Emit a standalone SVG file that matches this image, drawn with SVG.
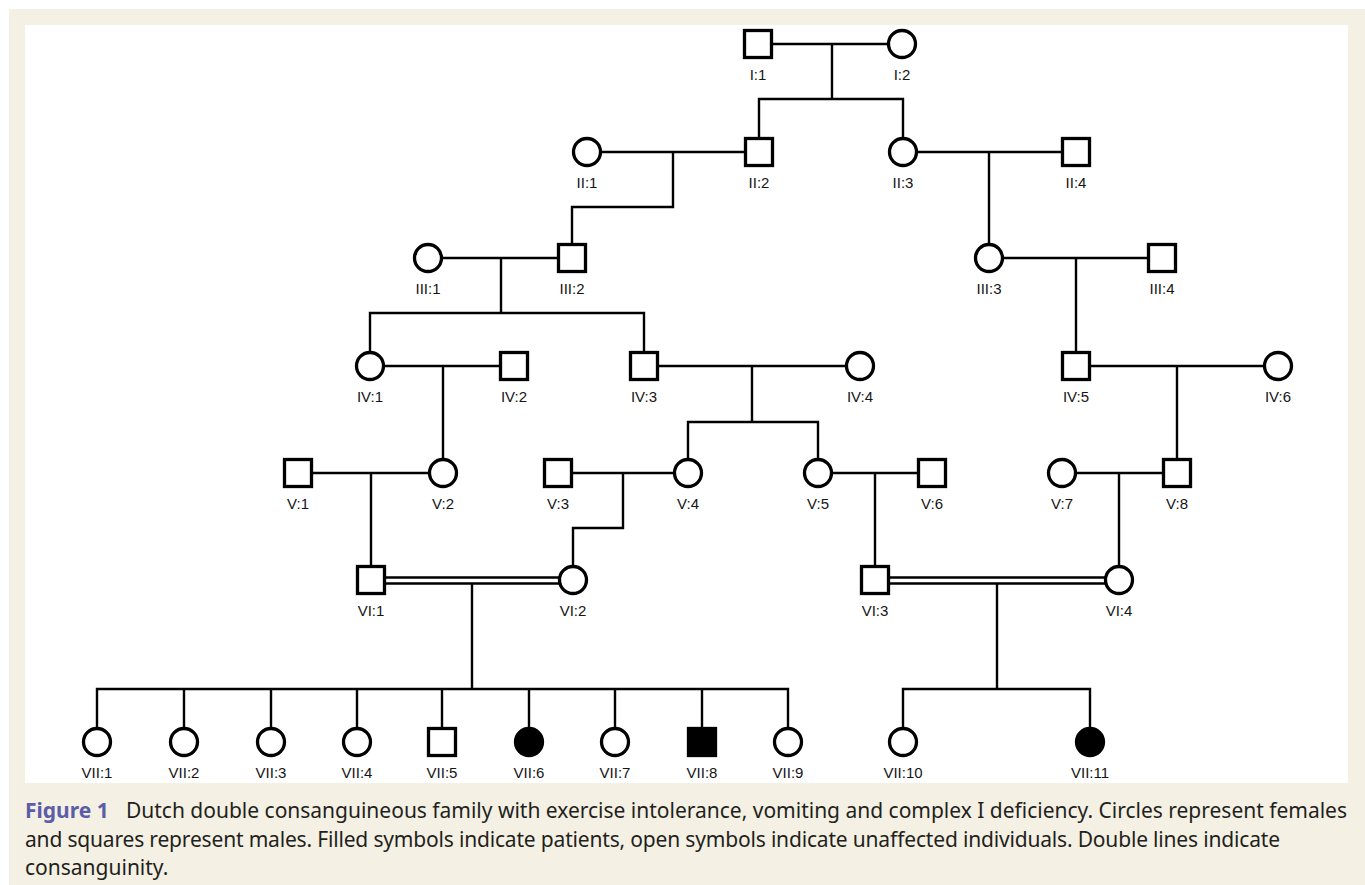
<svg xmlns="http://www.w3.org/2000/svg" width="1365" height="885" viewBox="0 0 1365 885">
<defs>
<style>
.ln{fill:none;stroke:#000;stroke-width:2.4;stroke-linecap:square}
.sym{fill:#fff;stroke:#000;stroke-width:3.3}
.aff{fill:#000;stroke:#000;stroke-width:3.3}
.lb{font-family:"Liberation Sans",Arial,sans-serif;font-size:15px;fill:#151515;text-anchor:middle}
.cap{font-family:"Noto Sans","Open Sans",sans-serif;font-size:21px;fill:#231f20}
.fig{font-family:"Noto Sans","Open Sans",sans-serif;font-size:21px;font-weight:bold;fill:#5a5da8}
</style>
<rect id="sq" x="-13.5" y="-13.5" width="27" height="27"/>
</defs>
<rect x="0" y="0" width="1365" height="885" fill="#fff"/>
<rect x="9" y="9" width="1356" height="876" fill="#f4f0e3"/>
<rect x="25" y="25" width="1323" height="758" fill="#fff"/>

<g id="connectors">
<path class="ln" d="M758 44H902M832 44V99M759 99H903M759 99V152M903 99V152"/>
<path class="ln" d="M587 152H759M673 152V207H572V258"/>
<path class="ln" d="M903 152H1076M989 152V258"/>
<path class="ln" d="M428 258H572M501 258V313M370 313H644M370 313V366M644 313V366"/>
<path class="ln" d="M989 258H1162M1076 258V366"/>
<path class="ln" d="M370 366H514M443 366V473"/>
<path class="ln" d="M644 366H860M752 366V422M688 422H818M688 422V473M818 422V473"/>
<path class="ln" d="M1076 366H1278M1177 366V473"/>
<path class="ln" d="M298 473H443M371 473V580"/>
<path class="ln" d="M558 473H688M623 473V528H573V580"/>
<path class="ln" d="M818 473H932M875 473V580"/>
<path class="ln" d="M1062 473H1177M1119 473V580"/>
<path class="ln" d="M371 577.5H573M371 583.5H573M472 583.5V689M97 689H788M97 689V742M184 689V742M271 689V742M357 689V742M442 689V742M529 689V742M615 689V742M702 689V742M788 689V742"/>
<path class="ln" d="M875 577.5H1119M875 583.5H1119M997 583.5V689M903 689H1090M903 689V742M1090 689V742"/>
</g>

<g id="I-1"><use href="#sq" class="sym" x="758" y="44"/><text class="lb" x="758" y="80">I:1</text></g>
<g id="I-2"><circle class="sym" cx="902" cy="44" r="13.5"/><text class="lb" x="902" y="80">I:2</text></g>

<g id="II-1"><circle class="sym" cx="587" cy="152" r="13.5"/><text class="lb" x="587" y="188">II:1</text></g>
<g id="II-2"><use href="#sq" class="sym" x="759" y="152"/><text class="lb" x="759" y="188">II:2</text></g>
<g id="II-3"><circle class="sym" cx="903" cy="152" r="13.5"/><text class="lb" x="903" y="188">II:3</text></g>
<g id="II-4"><use href="#sq" class="sym" x="1076" y="152"/><text class="lb" x="1076" y="188">II:4</text></g>

<g id="III-1"><circle class="sym" cx="428" cy="258" r="13.5"/><text class="lb" x="428" y="294">III:1</text></g>
<g id="III-2"><use href="#sq" class="sym" x="572" y="258"/><text class="lb" x="572" y="294">III:2</text></g>
<g id="III-3"><circle class="sym" cx="989" cy="258" r="13.5"/><text class="lb" x="989" y="294">III:3</text></g>
<g id="III-4"><use href="#sq" class="sym" x="1162" y="258"/><text class="lb" x="1162" y="294">III:4</text></g>

<g id="IV-1"><circle class="sym" cx="370" cy="366" r="13.5"/><text class="lb" x="370" y="402">IV:1</text></g>
<g id="IV-2"><use href="#sq" class="sym" x="514" y="366"/><text class="lb" x="514" y="402">IV:2</text></g>
<g id="IV-3"><use href="#sq" class="sym" x="644" y="366"/><text class="lb" x="644" y="402">IV:3</text></g>
<g id="IV-4"><circle class="sym" cx="860" cy="366" r="13.5"/><text class="lb" x="860" y="402">IV:4</text></g>
<g id="IV-5"><use href="#sq" class="sym" x="1076" y="366"/><text class="lb" x="1076" y="402">IV:5</text></g>
<g id="IV-6"><circle class="sym" cx="1278" cy="366" r="13.5"/><text class="lb" x="1278" y="402">IV:6</text></g>

<g id="V-1"><use href="#sq" class="sym" x="298" y="473"/><text class="lb" x="298" y="509">V:1</text></g>
<g id="V-2"><circle class="sym" cx="443" cy="473" r="13.5"/><text class="lb" x="443" y="509">V:2</text></g>
<g id="V-3"><use href="#sq" class="sym" x="558" y="473"/><text class="lb" x="558" y="509">V:3</text></g>
<g id="V-4"><circle class="sym" cx="688" cy="473" r="13.5"/><text class="lb" x="688" y="509">V:4</text></g>
<g id="V-5"><circle class="sym" cx="818" cy="473" r="13.5"/><text class="lb" x="818" y="509">V:5</text></g>
<g id="V-6"><use href="#sq" class="sym" x="932" y="473"/><text class="lb" x="932" y="509">V:6</text></g>
<g id="V-7"><circle class="sym" cx="1062" cy="473" r="13.5"/><text class="lb" x="1062" y="509">V:7</text></g>
<g id="V-8"><use href="#sq" class="sym" x="1177" y="473"/><text class="lb" x="1177" y="509">V:8</text></g>

<g id="VI-1"><use href="#sq" class="sym" x="371" y="580"/><text class="lb" x="371" y="616">VI:1</text></g>
<g id="VI-2"><circle class="sym" cx="573" cy="580" r="13.5"/><text class="lb" x="573" y="616">VI:2</text></g>
<g id="VI-3"><use href="#sq" class="sym" x="875" y="580"/><text class="lb" x="875" y="616">VI:3</text></g>
<g id="VI-4"><circle class="sym" cx="1119" cy="580" r="13.5"/><text class="lb" x="1119" y="616">VI:4</text></g>

<g id="VII-1"><circle class="sym" cx="97" cy="742" r="13.5"/><text class="lb" x="97" y="778">VII:1</text></g>
<g id="VII-2"><circle class="sym" cx="184" cy="742" r="13.5"/><text class="lb" x="184" y="778">VII:2</text></g>
<g id="VII-3"><circle class="sym" cx="271" cy="742" r="13.5"/><text class="lb" x="271" y="778">VII:3</text></g>
<g id="VII-4"><circle class="sym" cx="357" cy="742" r="13.5"/><text class="lb" x="357" y="778">VII:4</text></g>
<g id="VII-5"><use href="#sq" class="sym" x="442" y="742"/><text class="lb" x="442" y="778">VII:5</text></g>
<g id="VII-6"><circle class="aff" cx="529" cy="742" r="13.5"/><text class="lb" x="529" y="778">VII:6</text></g>
<g id="VII-7"><circle class="sym" cx="615" cy="742" r="13.5"/><text class="lb" x="615" y="778">VII:7</text></g>
<g id="VII-8"><use href="#sq" class="aff" x="702" y="742"/><text class="lb" x="702" y="778">VII:8</text></g>
<g id="VII-9"><circle class="sym" cx="788" cy="742" r="13.5"/><text class="lb" x="788" y="778">VII:9</text></g>
<g id="VII-10"><circle class="sym" cx="903" cy="742" r="13.5"/><text class="lb" x="903" y="778">VII:10</text></g>
<g id="VII-11"><circle class="aff" cx="1090" cy="742" r="13.5"/><text class="lb" x="1090" y="778">VII:11</text></g>

<g id="caption">
<text class="fig" x="25" y="818">Figure 1</text>
<text class="cap" x="126" y="818" textLength="1221">Dutch double consanguineous family with exercise intolerance, vomiting and complex I deficiency. Circles represent females</text>
<text class="cap" x="25" y="847" textLength="1255">and squares represent males. Filled symbols indicate patients, open symbols indicate unaffected individuals. Double lines indicate</text>
<text class="cap" x="25" y="875">consanguinity.</text>
</g>
</svg>
